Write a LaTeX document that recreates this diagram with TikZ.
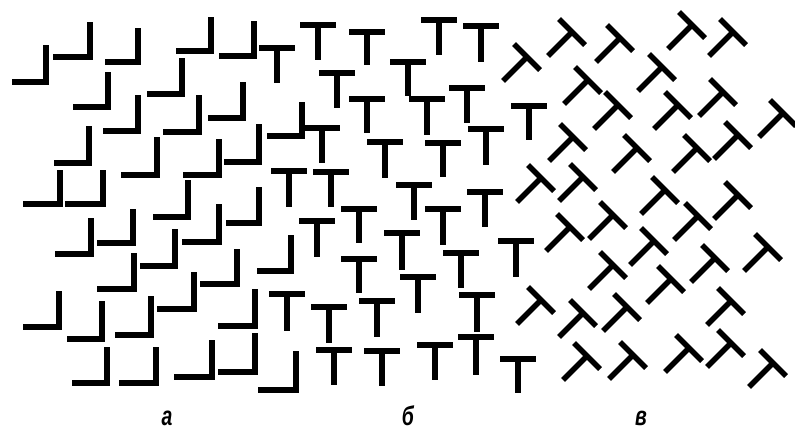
\documentclass[tikz,border=0pt]{standalone}
\usepackage{fontspec}
\newfontfamily\labfont[FakeStretch=0.72]{Liberation Sans}
\tikzset{
  glyph/.style={line width=5.6pt, black, line join=miter, line cap=butt},
  lab/.style={anchor=base, inner sep=0pt, font=\labfont\bfseries\itshape\fontsize{27}{27}\selectfont}
}
\begin{document}
\begin{tikzpicture}[x=1pt,y=-1pt]
\useasboundingbox (0,0) rectangle (795,431);
% L shapes: corner x / corner y / left end / top end
\foreach \a/\b/\c/\d in {46/82/12/45, 90/57/53/22, 138/62/105/28, 211/51/176/17, 254/56/219/21,
  108/107/73/72, 182/94/147/58, 138/131/103/95, 199/132/163/95, 243/118/208/82,
  89/163/54/126, 157/175/121/137, 219/175/183/139, 259/162/224/124, 302/136/267/102,
  60/204/23/170, 103/204/65/170, 188/217/153/180, 259/223/226/187, 91/254/55/218,
  133/243/97/209, 219/242/182/204, 175/266/140/229, 134/289/97/253, 237/284/200/249,
  291/271/257/235, 194/309/157/272, 59/327/23/291, 102/339/67/301, 151/335/115/296,
  255/326/218/289, 107/383/72/347, 156/383/119/347, 212/377/174/340, 255/372/218/333,
  296/390/258/351}
  \draw[glyph] (\c,\b) -- (\a,\b) -- (\a,\d);
% upright T shapes: stem x / bar y / stem bottom
\foreach \a/\b/\c in {277/48/83, 318/25/60, 367/32/65, 439/20/55, 481/26/62, 408/62/96,
  337/73/108, 367/99/133, 427/99/135, 467/88/123, 322/128/163, 385/142/178, 443/143/177,
  486/129/165, 529/106/140, 289/171/207, 331/172/207, 414/185/220, 485/192/227,
  317/221/257, 359/209/243, 402/233/270, 443/209/245, 516/241/277, 359/259/293,
  418/277/313, 461/253/288, 287/294/331, 329/307/343, 377/301/337, 477/295/332,
  334/350/385, 382/351/386, 435/345/380, 476/337/375, 518/359/393}
  {\draw[glyph] (\a-18,\b) -- (\a+18,\b);
   \draw[glyph] (\a,\b) -- (\a,\c);}
% tilted T shapes: junction x / junction y
\foreach \a/\b in {527/57, 572/32, 620/38, 692/25, 733/32, 662/67, 588/80, 618/105,
  678/105, 723/92, 783/113, 573/137, 637/148, 697/148, 738/135, 541/178, 583/177,
  665/190, 738/195, 570/227, 613/215, 698/216, 654/241, 715/258, 768/247, 613/265,
  671/279, 541/300, 583/313, 627/307, 731/301, 587/356, 633/355, 689/348, 731/343,
  773/363}
  {\draw[glyph] (\a-13,\b-13) -- (\a+13,\b+13);
   \draw[glyph] (\a,\b) -- (\a-24,\b+24);}
\node[lab] (la) at (167,425) {а};
\node[lab] (lb) at (408,425) {б};
\node[lab] (lc) at (641,425) {в};
\end{tikzpicture}
\end{document}
